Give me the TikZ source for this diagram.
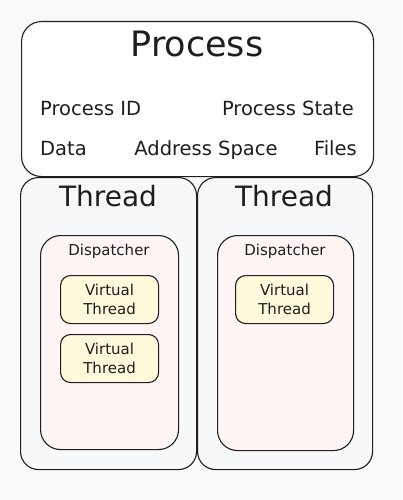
\documentclass[tikz,border=0pt]{standalone}
\usepackage{fontspec}
\setmainfont{DejaVu Sans}
\definecolor{bgc}{HTML}{F8F9FA}
\definecolor{ink}{HTML}{1E1E1E}
\definecolor{threadfill}{HTML}{F6F8FA}
\definecolor{dispfill}{HTML}{FFF5F5}
\definecolor{vtfill}{HTML}{FFF9DB}
\tikzset{
  box/.style={draw=ink, line width=1.1pt, anchor=north west, inner sep=0pt},
  procbox/.style={box, fill=white, rounded corners=20pt},
  threadbox/.style={box, fill=threadfill, rounded corners=18pt},
  dispbox/.style={box, fill=dispfill, rounded corners=20pt},
  vtbox/.style={box, fill=vtfill, rounded corners=10pt, minimum width=98pt, minimum height=48pt},
  lbl/.style={text=ink, inner sep=0pt},
  bigtitle/.style={lbl, anchor=base, font=\fontsize{35}{40}\selectfont},
  midtitle/.style={lbl, anchor=base, font=\fontsize{28}{33}\selectfont},
  attr/.style={lbl, font=\fontsize{19.5}{23}\selectfont},
  small/.style={lbl, font=\fontsize{15}{19}\selectfont, align=center}
}
\begin{document}
\begin{tikzpicture}[x=1pt,y=-1pt]
\fill[bgc] (0,0) rectangle (402,500);
\useasboundingbox (0,0) rectangle (402,500);
% threads
\node[threadbox, minimum width=176pt, minimum height=292pt] (t1) at (20,177) {};
\node[threadbox, minimum width=175pt, minimum height=292pt] (t2) at (197,177) {};
% process
\node[procbox, minimum width=352pt, minimum height=155pt] (proc) at (21,21) {};
% dispatchers
\node[dispbox, minimum width=138pt, minimum height=214pt] (d1) at (40,235) {};
\node[dispbox, minimum width=136pt, minimum height=215pt] (d2) at (217,235) {};
% virtual threads
\node[vtbox] (v1) at (60,275) {};
\node[vtbox] (v2) at (60,334) {};
\node[vtbox] (v3) at (235,275) {};
% texts
\node[bigtitle] (ptitle) at (197,57) {Process};
\node[attr, anchor=base west] (pid) at (40,116) {Process ID};
\node[attr, anchor=base east] (pstate) at (354,116) {Process State};
\node[attr, anchor=base west] (pdata) at (40,155) {Data};
\node[attr, anchor=base] (paddr) at (206,155) {Address Space};
\node[attr, anchor=base east] (pfiles) at (357,155) {Files};
\node[midtitle] (t1title) at (108,206) {Thread};
\node[midtitle] (t2title) at (284,206) {Thread};
\node[small, anchor=base] (d1title) at (109,255) {Dispatcher};
\node[small, anchor=base] (d2title) at (285,255) {Dispatcher};
\node[small] (v1t) at (v1.center) {Virtual\\Thread};
\node[small] (v2t) at (v2.center) {Virtual\\Thread};
\node[small] (v3t) at (v3.center) {Virtual\\Thread};
\end{tikzpicture}
\end{document}
